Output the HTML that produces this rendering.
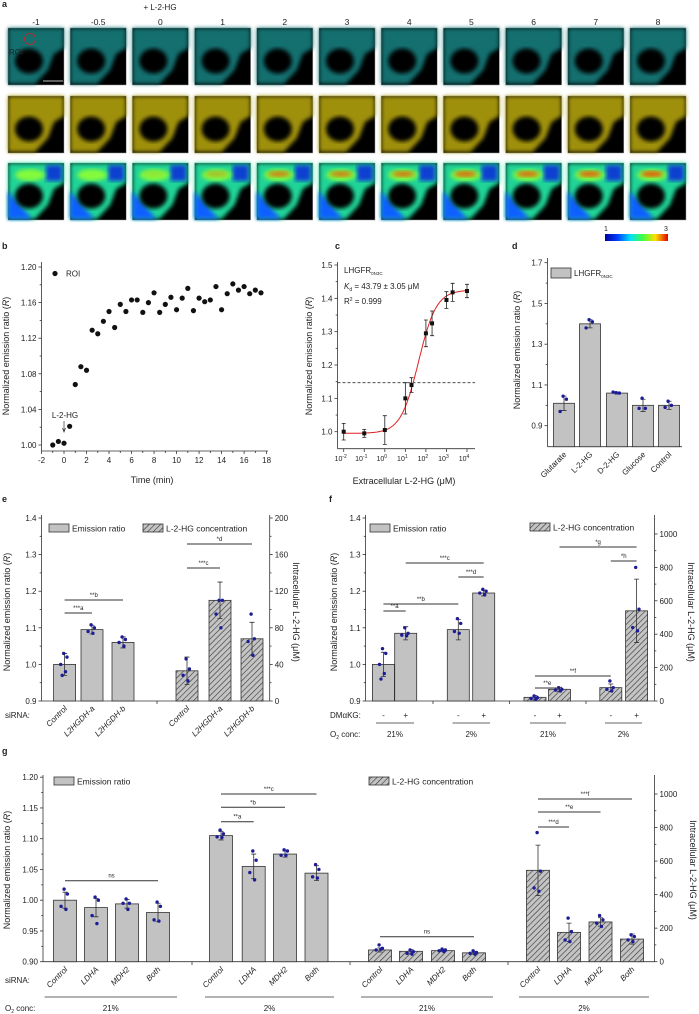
<!DOCTYPE html>
<html><head><meta charset="utf-8">
<style>
html,body{margin:0;padding:0;background:#fff;}
svg{display:block;font-family:"Liberation Sans",sans-serif;}
text{fill:#222;}
</style></head>
<body>
<svg id="fig" width="699" height="1014" viewBox="0 0 699 1014" xmlns="http://www.w3.org/2000/svg">
<defs>
<pattern id="hatch" patternUnits="userSpaceOnUse" width="4" height="4" patternTransform="rotate(45)">
<rect width="4" height="4" fill="#c4c4c4"/><line x1="0" y1="0" x2="0" y2="4" stroke="#333" stroke-width="1.2"/>
</pattern>
<linearGradient id="jet" x1="0" x2="1" y1="0" y2="0">
<stop offset="0" stop-color="#0000a0"/><stop offset="0.2" stop-color="#0040ff"/><stop offset="0.4" stop-color="#00e0ff"/><stop offset="0.6" stop-color="#40ff40"/><stop offset="0.8" stop-color="#ffe000"/><stop offset="1" stop-color="#e00000"/>
</linearGradient>
<filter id="blur"><feGaussianBlur stdDeviation="2"/></filter>
</defs>
</svg>
<script>
// ---------- DATA ----------
const aTimes=['-1','-0.5','0','1','2','3','4','5','6','7','8'];
const aHot=[0,0,0.1,0.3,0.6,0.6,0.65,0.7,0.7,0.75,0.8];

const bTime=[-1,-0.5,0,0.5,1,1.5,2,2.5,3,3.5,4,4.5,5,5.5,6,6.5,7,7.5,8,8.5,9,9.5,10,10.5,11,11.5,12,12.5,13,13.5,14,14.5,15,15.5,16,16.5,17,17.5];
const bRatio=[1.000,1.004,1.002,1.021,1.068,1.088,1.084,1.129,1.125,1.139,1.150,1.132,1.158,1.150,1.163,1.163,1.149,1.160,1.171,1.149,1.158,1.166,1.152,1.165,1.176,1.151,1.165,1.161,1.163,1.178,1.152,1.170,1.181,1.174,1.178,1.170,1.174,1.171];
const bXTicks=[-2,0,2,4,6,8,10,12,14,16,18];
const bYTicks=[1.00,1.04,1.08,1.12,1.16,1.20];

const cLogConc=[-2,-1,0,1,1.3,2,2.3,3,3.3,4];
const cRatio=[1.0,0.995,1.005,1.10,1.14,1.295,1.325,1.395,1.418,1.422];
const cErr=[0.025,0.012,0.043,0.047,0.022,0.04,0.037,0.025,0.027,0.02];
const cFit=[0.995,1.425,43.79,1.0]; // bottom, top, Kd, hill
const cHalf=1.147;
const cYTicks=[1.0,1.1,1.2,1.3,1.4,1.5];
const cXTicks=[-2,-1,0,1,2,3,4];

const dCats=['Glutarate','L-2-HG','D-2-HG','Glucose','Control'];
const dVals=[1.01,1.40,1.06,1.00,1.00];
const dErr=[0.035,0.02,0.005,0.03,0.02];
const dDots=[[1.045,1.03,0.97],[1.42,1.41,1.38],[1.062,1.06,1.065],[1.035,0.985,0.985],[1.02,1.0,0.99]];
const dYTicks=[0.9,1.1,1.3,1.5,1.7];

const eCats=['Control','L2HGDH-a','L2HGDH-b'];
const eRatio=[1.0,1.095,1.06];
const eRatioErr=[0.03,0.012,0.015];
const eRatioDots=[[1.03,1.02,1.0,0.98,0.97],[1.108,1.1,1.09,1.085],[1.075,1.068,1.06,1.05]];
const eConc=[33,110,68];
const eConcErr=[15,20,18];
const eConcDots=[[46,35,28,22],[110,110,95,80],[95,68,65,50]];
const eYTicks=[0.9,1.0,1.1,1.2,1.3,1.4];
const eRTicks=[0,40,80,120,160,200];

const fRatio=[1.0,1.085,1.095,1.195];
const fRatioErr=[0.033,0.018,0.028,0.008];
const fRatioDots=[[1.043,1.03,1.0,0.975,0.96],[1.1,1.085,1.08,1.078],[1.125,1.112,1.09,1.085],[1.205,1.2,1.195,1.19]];
const fConc=[22,70,80,540];
const fConcErr=[10,12,22,190];
const fConcDots=[[30,20,15,10],[80,70,65,60],[120,80,70,60],[800,550,440,420]];
const fSign=['-','+','-','+','-','+','-','+'];
const fO2=['21%','2%','21%','2%'];
const fRTicks=[0,200,400,600,800,1000];

const gCats=['Control','LDHA','MDH2','Both'];
const g1=[1.0,0.988,0.994,0.98];
const g1Err=[0.013,0.015,0.007,0.015];
const g1Dots=[[1.018,1.01,0.99,0.985],[1.005,1.0,0.975,0.962],[1.002,0.995,0.995,0.985],[0.997,0.99,0.968,0.966]];
const g2=[1.105,1.055,1.075,1.044];
const g2Err=[0.007,0.02,0.005,0.012];
const g2Dots=[[1.114,1.108,1.103,1.102],[1.08,1.065,1.045,1.033],[1.082,1.08,1.073,1.073],[1.058,1.05,1.038,1.036]];
const g3=[70,62,66,53];
const g3Err=[12,10,6,8];
const g3Dots=[[100,80,70,75],[70,60,50,45],[75,70,65,60],[65,55,50,45]];
const g4=[545,175,237,135];
const g4Err=[150,55,25,30];
const g4Dots=[[770,540,440,420],[260,180,130,120],[275,250,230,210],[160,150,130,120]];
const gO2=['21%','2%','21%','2%'];
const gYTicks=[0.90,0.95,1.00,1.05,1.10,1.15,1.20];
const gRTicks=[0,200,400,600,800,1000];

// ---------- HELPERS ----------
const NS='http://www.w3.org/2000/svg';
const svg=document.getElementById('fig');
function el(tag,attrs,parent){const e=document.createElementNS(NS,tag);for(const k in attrs)e.setAttribute(k,attrs[k]);(parent||svg).appendChild(e);return e;}
function txt(x,y,s,attrs,parent){const t=el('text',Object.assign({x:x,y:y,'font-size':8},attrs||{}),parent);t.textContent=s;return t;}
function lin(d0,d1,r0,r1){return v=>r0+(v-d0)/(d1-d0)*(r1-r0);}
function grp(name){const g=el('g',{});return g;}
function line(x1,y1,x2,y2,p,attrs){return el('line',Object.assign({x1:x1,y1:y1,x2:x2,y2:y2,stroke:'#333','stroke-width':0.8},attrs||{}),p);}
function yAxis(p,x,yTop,yBot,ticks,sc,fmt,right){
  line(x,yTop,x,yBot,p);
  const d=right?1:-1;
  ticks.forEach((v,i)=>{const y=sc(v);line(x,y,x+3*d,y,p);
    txt(x+5*d,y+3,fmt(v),{'text-anchor':right?'start':'end'},p);
    if(i<ticks.length-1){const ym=(y+sc(ticks[i+1]))/2;line(x,ym,x+1.8*d,ym,p);}});
}
function panelLabel(x,y,s){const t=txt(x,y,s,{'font-size':9,'font-weight':'bold'});}
function vTitle(x,y,s,p,rot){const t=el('text',{x:0,y:0,'font-size':9,'text-anchor':'middle',transform:`translate(${x},${y}) rotate(${rot||-90})`},p);t.innerHTML=s;return t;}
function drawBars(p,centers,vals,errs,dots,sc,base,hatched,w){
  centers.forEach((cx,i)=>{
    const y=sc(vals[i]);
    const b=el('rect',{x:cx-w/2,y:y,width:w,height:base-y,fill:hatched?'url(#hatch)':'#c2c2c2',stroke:'#333','stroke-width':0.8},p);
    
    
    const eu=sc(vals[i]+errs[i]),ed=sc(vals[i]-errs[i]);
    const eb=el('path',{d:`M${cx},${eu}V${ed}M${cx-2.5},${eu}H${cx+2.5}M${cx-2.5},${ed}H${cx+2.5}`,stroke:'#333','stroke-width':0.8,fill:'none'},p);
    
    
    dots[i].forEach((v,j)=>{
      const dt=el('circle',{cx:cx+(j%2?3:-3)*((j%3)/2+0.3),cy:sc(v),r:1.7,fill:'#1c1c96'},p);
      
      
    });
  });
}
function sig(p,x1,x2,y,lab){
  const l=line(x1,y,x2,y,p,{'stroke-width':1});
  
  
  txt((x1+x2)/2,y-3,lab,{'font-size':6,'text-anchor':'middle'},p);
}
function rotLabels(p,centers,labels,y,italic){
  centers.forEach((cx,i)=>{const t=el('text',{x:0,y:0,'font-size':8,'text-anchor':'end','font-style':italic?'italic':'normal',transform:`translate(${cx+3},${y}) rotate(-45)`},p);t.textContent=labels[i];});
}
function legendBox(p,x,y,hatched,label){
  const r=el('rect',{x:x,y:y,width:20,height:8,fill:hatched?'url(#hatch)':'#c2c2c2',stroke:'#333','stroke-width':0.8},p);
  
  
  txt(x+23,y+7.5,label,{'font-size':8.5},p);
}

// ---------- PANEL A ----------
panelLabel(2,7,'a');
const ga=grp('panel-a-images');
txt(160,10,'+ L-2-HG',{'font-size':8,'text-anchor':'middle'},ga);
const rowY=[28,96,163];
aTimes.forEach((t,i)=>{
  const x=8+i*62.2;
  txt(x+28,25,t,{'font-size':8.5,'text-anchor':'middle'},ga);
  rowY.forEach((y,r)=>{
    const tile=grp('image-tile');
    ga.appendChild(tile);
    el('rect',{x:x,y:y,width:56,height:57,fill:'#000',stroke:'#999','stroke-width':0.5},tile);
    const col=r===0?'#127474':(r===1?'#a89810':'#20e0a0');
    const cell=`M${x},${y}H${x+56}V${y+20}L${x+46},${y+26}L${x+40},${y+42}L${x+27},${y+56}H${x}Z`;
    el('path',{d:cell,fill:col,opacity:0.95,filter:'url(#blur)'},tile);
    if(r===2){
      el('path',{d:`M${x},${y+28}L${x+24},${y+56}H${x}Z`,fill:'#1060ff',filter:'url(#blur)'},tile);
      el('rect',{x:x+38,y:y+2,width:16,height:16,fill:'#1040d0',filter:'url(#blur)'},tile);
      el('ellipse',{cx:x+22,cy:y+12,rx:15,ry:6,fill:'#90ff30',opacity:0.9,filter:'url(#blur)'},tile);
      el('ellipse',{cx:x+22,cy:y+11,rx:11,ry:3,fill:'#ff3000',opacity:aHot[i],filter:'url(#blur)'},tile);
    }
    el('ellipse',{cx:x+21,cy:y+33,rx:14,ry:12.5,fill:'#000',filter:'url(#blur)'},tile);
  });
});
const roi=el('circle',{cx:30,cy:39,r:5.5,fill:'none',stroke:'#d02020','stroke-width':0.8});


txt(9,55,'ROI',{'font-size':8,fill:'#c02020'});
line(43,81,63,81,null,{stroke:'#fff','stroke-width':0.8});
const cb=el('rect',{x:605,y:234,width:63,height:7,fill:'url(#jet)'});


txt(606,231,'1',{'font-size':7,'text-anchor':'middle'});
txt(666,231,'3',{'font-size':7,'text-anchor':'middle'});

// ---------- PANEL B ----------
panelLabel(2,249,'b');
const gb=grp('panel-b-chart');
const bx=lin(-2,18,41.5,266.6), by=lin(1.0,1.2,445,267);
yAxis(gb,41.5,262,451,bYTicks,by,v=>v.toFixed(2));
line(41.5,451,268,451,gb);
bXTicks.forEach((v,i)=>{line(bx(v),451,bx(v),454,gb);txt(bx(v),463,String(v),{'text-anchor':'middle'},gb);if(i<bXTicks.length-1)line(bx(v+1),451,bx(v+1),453,gb);});
txt(152,483,'Time (min)',{'font-size':9,'text-anchor':'middle'},gb);
vTitle(9,356,'Normalized emission ratio (<tspan font-style="italic">R</tspan>)',gb);
bTime.forEach((t,i)=>{const c=el('circle',{cx:bx(t),cy:by(bRatio[i]),r:2.6,fill:'#111'},gb);});
el('circle',{cx:55,cy:273.5,r:2.6,fill:'#111'},gb);
txt(66,276.5,'ROI',{},gb);
txt(65,418,'L-2-HG',{'text-anchor':'middle'},gb);
el('path',{d:`M${bx(0)},421V431M${bx(0)-1.5},428L${bx(0)},432L${bx(0)+1.5},428`,stroke:'#333','stroke-width':0.7,fill:'none'},gb);

// ---------- PANEL C ----------
panelLabel(335,249,'c');
const gc=grp('panel-c-chart');
const cx_=v=>343.7+(v+2)*20.55, cy_=lin(1.0,1.5,431.7,265);
yAxis(gc,337.5,262,448.7,cYTicks,cy_,v=>v.toFixed(1));
line(337.5,448.7,475,448.7,gc);
cXTicks.forEach(v=>{line(cx_(v),448.7,cx_(v),452,gc);const t=txt(cx_(v)-3,461,'10',{'text-anchor':'middle','font-size':7},gc);const s=el('tspan',{'font-size':5,dy:-3},t);s.textContent=String(v);});
txt(404,484,'Extracellular L-2-HG (μM)',{'font-size':9,'text-anchor':'middle'},gc);
vTitle(312,356,'Normalized emission ratio (<tspan font-style="italic">R</tspan>)',gc);
const hl=line(337.5,cy_(cHalf),475,cy_(cHalf),gc,{'stroke-dasharray':'3,2'});


let dpath='';
for(let L=-2;L<=4.001;L+=0.05){const c=Math.pow(10,L);const v=cFit[0]+(cFit[1]-cFit[0])*Math.pow(c,cFit[3])/(Math.pow(cFit[2],cFit[3])+Math.pow(c,cFit[3]));dpath+=(dpath?'L':'M')+cx_(L).toFixed(1)+','+cy_(v).toFixed(1);}
const fit=el('path',{d:dpath,fill:'none',stroke:'#e02020','stroke-width':1},gc);


cLogConc.forEach((L,i)=>{const x=cx_(L),y=cy_(cRatio[i]),u=cy_(cRatio[i]+cErr[i]),d=cy_(cRatio[i]-cErr[i]);
  el('path',{d:`M${x},${u}V${d}M${x-2},${u}H${x+2}M${x-2},${d}H${x+2}`,stroke:'#222','stroke-width':0.8,fill:'none'},gc);
  const m=el('rect',{x:x-2,y:y-2,width:4,height:4,fill:'#111'},gc);});
const ct1=txt(344,273,'LHGFR',{'font-size':8},gc);const ss=el('tspan',{'font-size':4.5,dy:2},ct1);ss.textContent='0N3C';
const ct2=txt(344,289,'',{'font-size':8},gc);ct2.innerHTML='<tspan font-style="italic">K</tspan><tspan font-size="5" dy="2">d</tspan><tspan dy="-2"> = 43.79 ± 3.05 μM</tspan>';
const ct3=txt(344,304,'',{'font-size':8},gc);ct3.innerHTML='R<tspan font-size="5" dy="-3">2</tspan><tspan dy="3"> = 0.999</tspan>';

// ---------- PANEL D ----------
panelLabel(512,249,'d');
const gd=grp('panel-d-chart');
const dy_=lin(0.9,1.7,425.7,262.7);
yAxis(gd,547.5,258,446.7,dYTicks,dy_,v=>v.toFixed(1));
line(547.5,446.7,682,446.7,gd);
const dC=[564,590,617,643,669];
drawBars(gd,dC,dVals,dErr,dDots,dy_,446.7,false,21);
rotLabels(gd,dC,dCats,455,false);
vTitle(520,350,'Normalized emission ratio (<tspan font-style="italic">R</tspan>)',gd);
el('rect',{x:551,y:268,width:20,height:10,fill:'#c2c2c2',stroke:'#333','stroke-width':0.8},gd);
const dl=txt(574,276,'LHGFR',{'font-size':8},gd);const ds=el('tspan',{'font-size':4.5,dy:2},dl);ds.textContent='0N3C';

// ---------- PANEL E ----------
panelLabel(2,502,'e');
const ge=grp('panel-e-chart');
const ey=lin(0.9,1.4,701,518), er=lin(0,200,701,518);
yAxis(ge,41.5,515,701,eYTicks,ey,v=>v.toFixed(1));
yAxis(ge,269.7,515,701,eRTicks,er,v=>String(v),true);
line(41.5,701,269.7,701,ge);
line(157,701,157,704,ge);
const eC1=[64.6,92,123], eC2=[187,220,252];
drawBars(ge,eC1,eRatio,eRatioErr,eRatioDots,ey,701,false,22);
drawBars(ge,eC2,eConc,eConcErr,eConcDots,er,701,true,22);
rotLabels(ge,eC1,eCats,709,true);
rotLabels(ge,eC2,eCats,709,true);
txt(5,718,'siRNA:',{'font-size':8},ge);
sig(ge,64.6,92,613,'***a');
sig(ge,64.6,123,600,'**b');
sig(ge,187,220,568,'***c');
sig(ge,187,252,544,'*d');
legendBox(ge,49,524,false,'Emission ratio');
legendBox(ge,143,524,true,'L-2-HG concentration');
vTitle(10,612,'Normalized emission ratio (<tspan font-style="italic">R</tspan>)',ge);
vTitle(293,612,'Intracellular L-2-HG (μM)',ge,90);

// ---------- PANEL F ----------
panelLabel(329,502,'f');
const gf=grp('panel-f-chart');
const fy=lin(0.9,1.4,701,518), fr=lin(0,1000,701,534);
yAxis(gf,365.6,515,701,eYTicks,fy,v=>v.toFixed(1));
yAxis(gf,654.5,515,701,fRTicks,fr,v=>String(v),true);
line(365.6,701,654.5,701,gf);
[433,509.6,586].forEach(x=>line(x,701,x,704,gf));
const fC1=[383.4,405.7,458.3,483.7], fC2=[535,559.5,610.8,636.6];
drawBars(gf,fC1,fRatio,fRatioErr,fRatioDots,fy,701,false,22);
drawBars(gf,fC2,fConc,fConcErr,fConcDots,fr,701,true,22);
[...fC1,...fC2].forEach((x,i)=>txt(x,718,fSign[i],{'text-anchor':'middle'},gf));
txt(330,718,'DMαKG:',{'font-size':8},gf);
const fPairs=[[376,414],[452.5,490],[530,566],[605,642]];
fPairs.forEach((p,i)=>{line(p[0],723,p[1],723,gf);txt((p[0]+p[1])/2,737,fO2[i],{'text-anchor':'middle'},gf);});
const fo=txt(330,737,'O',{'font-size':8},gf);fo.innerHTML='O<tspan font-size="5" dy="2">2</tspan><tspan dy="-2"> conc:</tspan>';
sig(gf,383.4,405.7,611,'**a');
sig(gf,383.4,458.3,604,'**b');
sig(gf,405.7,483.7,563,'***c');
sig(gf,458.3,483.7,577,'***d');
sig(gf,535,559.5,688,'**e');
sig(gf,535,610.8,676,'**f');
sig(gf,559.5,636.6,547,'*g');
sig(gf,610.8,636.6,561,'*h');
legendBox(gf,370,524,false,'Emission ratio');
legendBox(gf,530,523,true,'L-2-HG concentration');
vTitle(337,612,'Normalized emission ratio (<tspan font-style="italic">R</tspan>)',gf);
vTitle(688,612,'Intracellular L-2-HG (μM)',gf,90);

// ---------- PANEL G ----------
panelLabel(2,754,'g');
const gg=grp('panel-g-chart');
const gy=lin(0.9,1.2,961.7,777.2), gr=lin(0,1000,961.7,794);
yAxis(gg,43,775,961.7,gYTicks,gy,v=>v.toFixed(2));
yAxis(gg,654.5,775,961.7,gRTicks,gr,v=>String(v),true);
line(43,961.7,654.5,961.7,gg);
[192,350,508].forEach(x=>line(x,961.7,x,965,gg));
const gC1=[65,96,127,158], gC2=[221,253.7,285,316.5], gC3=[380,411,443,474], gC4=[538,569,600.5,632];
drawBars(gg,gC1,g1,g1Err,g1Dots,gy,961.7,false,23);
drawBars(gg,gC2,g2,g2Err,g2Dots,gy,961.7,false,23);
drawBars(gg,gC3,g3,g3Err,g3Dots,gr,961.7,true,23);
drawBars(gg,gC4,g4,g4Err,g4Dots,gr,961.7,true,23);
[gC1,gC2,gC3,gC4].forEach(c=>rotLabels(gg,c,gCats,970,true));
txt(5,983,'siRNA:',{'font-size':8},gg);
const gPairs=[[44.6,177],[205,334],[361,493],[519,649]];
gPairs.forEach((p,i)=>{line(p[0],997,p[1],997,gg);txt((p[0]+p[1])/2,1011,gO2[i],{'text-anchor':'middle'},gg);});
const go=txt(5,1011,'',{'font-size':8},gg);go.innerHTML='O<tspan font-size="5" dy="2">2</tspan><tspan dy="-2"> conc:</tspan>';
sig(gg,65,158,880.7,'ns');
sig(gg,221,253.7,821.7,'**a');
sig(gg,221,285,807.3,'*b');
sig(gg,221,316.5,794,'***c');
sig(gg,380,474,936.7,'ns');
sig(gg,538,569,827,'***d');
sig(gg,538,600.5,812,'**e');
sig(gg,538,632,799,'***f');
legendBox(gg,54,777,false,'Emission ratio');
legendBox(gg,369,777,true,'L-2-HG concentration');
vTitle(10,870,'Normalized emission ratio (<tspan font-style="italic">R</tspan>)',gg);
vTitle(690,870,'Intracellular L-2-HG (μM)',gg,90);
</script>
</body></html>
